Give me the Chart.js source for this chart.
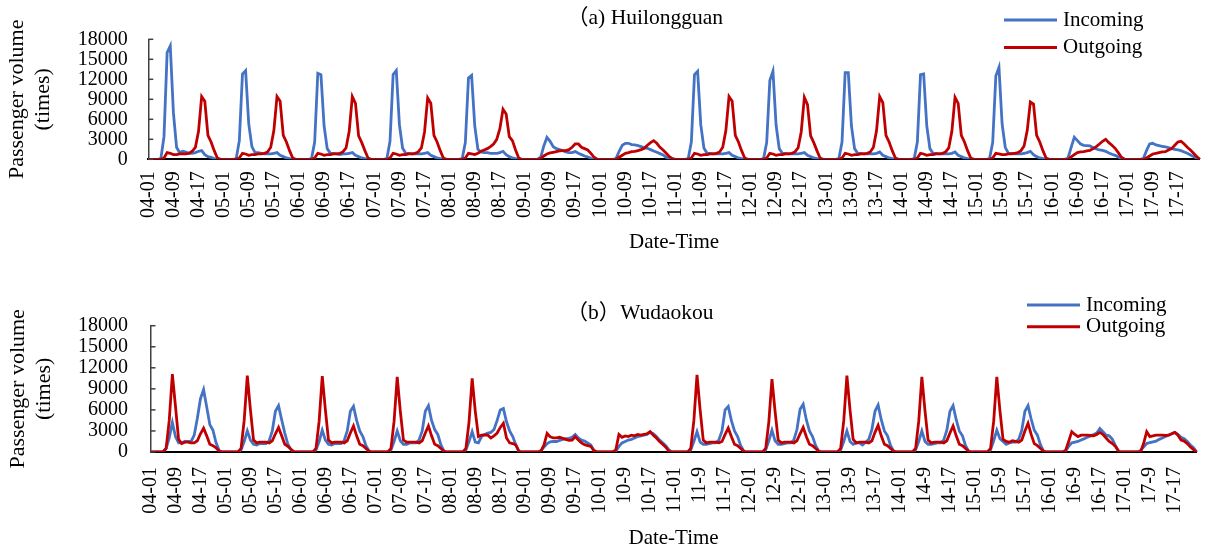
<!DOCTYPE html>
<html>
<head>
<meta charset="utf-8">
<title>Passenger volume - Huilongguan / Wudaokou</title>
<script src="https://cdn.jsdelivr.net/npm/chart.js@4.4.1/dist/chart.umd.min.js"></script>
<style>
  html, body { margin: 0; padding: 0; background: #fff; }
  body { width: 1214px; height: 551px; position: relative; overflow: hidden; }
  canvas { position: absolute; left: 0; }
  #chartA { top: 0; }
  #chartB { top: 270px; }
</style>
</head>
<body>
<canvas id="chartA" width="1214" height="262"></canvas>
<canvas id="chartB" width="1214" height="281"></canvas>
<script>
// Days and hours of the hourly series (14 days x 24 hours)
const days = ['04', '05', '06', '07', '08', '09', '10', '11', '12', '13', '14', '15', '16', '17'];
const hours = ['01', '02', '03', '04', '05', '06', '07', '08', '09', '10', '11', '12',
    '13', '14', '15', '16', '17', '18', '19', '20', '21', '22', '23', '24'];

// Tick labels shown every 8 hours
const hlgTickLabels = ['04-01', '04-09', '04-17', '05-01', '05-09', '05-17', '06-01', '06-09', '06-17',
    '07-01', '07-09', '07-17', '08-01', '08-09', '08-17', '09-01', '09-09', '09-17', '10-01', '10-09', '10-17',
    '11-01', '11-09', '11-17', '12-01', '12-09', '12-17', '13-01', '13-09', '13-17', '14-01', '14-09', '14-17',
    '15-01', '15-09', '15-17', '16-01', '16-09', '16-17', '17-01', '17-09', '17-17'];
const wdkTickLabels = ['04-01', '04-09', '04-17', '05-01', '05-09', '05-17', '06-01', '06-09', '06-17',
    '07-01', '07-09', '07-17', '08-01', '08-09', '08-17', '09-01', '09-09', '09-17', '10-01', '10-9', '10-17',
    '11-01', '11-9', '11-17', '12-01', '12-9', '12-17', '13-01', '13-9', '13-17', '14-01', '14-9', '14-17',
    '15-01', '15-9', '15-17', '16-01', '16-9', '16-17', '17-01', '17-9', '17-17'];

const yTicks = [0, 3000, 6000, 9000, 12000, 15000, 18000];

// (a) Huilongguan, one row per day
const hlgIncoming = [
    0, 0, 0, 0, 100, 3400, 16000, 17000, 7000, 1800, 1000, 1200, 1100, 900, 900, 1000, 1200, 1300, 700, 400, 300, 100, 0, 0, // 04
    0, 0, 0, 0, 100, 2800, 12800, 13300, 5300, 1900, 1000, 1000, 900, 800, 800, 800, 900, 1000, 600, 400, 200, 100, 0, 0, // 05
    0, 0, 0, 0, 100, 2600, 12900, 12700, 5000, 1600, 900, 900, 800, 700, 800, 800, 900, 1000, 600, 400, 200, 100, 0, 0, // 06
    0, 0, 0, 0, 100, 2700, 12700, 13300, 5200, 1700, 900, 900, 800, 800, 800, 800, 900, 1000, 600, 400, 200, 100, 0, 0, // 07
    0, 0, 0, 0, 100, 2500, 12200, 12600, 5000, 1500, 1100, 1000, 1000, 900, 900, 900, 1000, 1200, 700, 400, 200, 100, 0, 0, // 08
    0, 0, 0, 0, 0, 300, 2000, 3300, 2700, 1900, 1600, 1450, 1300, 1100, 1000, 1000, 1150, 900, 700, 500, 350, 150, 0, 0, // 09
    0, 0, 0, 0, 0, 100, 1200, 2100, 2400, 2400, 2200, 2150, 2050, 1900, 1750, 1650, 1450, 1250, 1050, 850, 650, 300, 0, 0, // 10
    0, 0, 0, 0, 100, 2600, 12700, 13200, 5200, 1700, 900, 900, 800, 800, 800, 800, 900, 1000, 600, 400, 200, 100, 0, 0, // 11
    0, 0, 0, 0, 100, 2500, 11800, 13200, 5100, 1600, 900, 900, 800, 800, 800, 800, 900, 1000, 600, 400, 200, 100, 0, 0, // 12
    0, 0, 0, 0, 100, 2600, 13000, 13000, 5000, 1600, 900, 900, 800, 800, 800, 800, 900, 1100, 600, 400, 200, 100, 0, 0, // 13
    0, 0, 0, 0, 100, 2600, 12700, 12800, 5000, 1600, 900, 900, 800, 800, 800, 800, 900, 1100, 600, 400, 200, 100, 0, 0, // 14
    0, 0, 0, 0, 100, 2500, 12500, 13800, 5300, 1800, 900, 900, 800, 800, 800, 900, 1000, 1200, 700, 400, 200, 100, 0, 0, // 15
    0, 0, 0, 0, 0, 200, 1800, 3300, 2800, 2300, 2100, 2050, 2000, 1750, 1550, 1400, 1350, 1200, 950, 750, 600, 350, 0, 0, // 16
    0, 0, 0, 0, 0, 100, 1300, 2300, 2400, 2150, 2050, 1950, 1850, 1750, 1600, 1500, 1400, 1300, 1100, 900, 650, 400, 150, 0 // 17
];
const hlgOutgoing = [
    0, 0, 0, 0, 0, 200, 1000, 900, 700, 700, 800, 800, 800, 900, 1200, 1800, 4200, 9400, 8700, 3600, 2600, 1300, 200, 0, // 04
    0, 0, 0, 0, 0, 200, 900, 800, 600, 700, 700, 800, 800, 900, 1100, 1800, 4300, 9400, 8700, 3600, 2600, 1300, 200, 0, // 05
    0, 0, 0, 0, 0, 200, 900, 800, 600, 700, 700, 800, 800, 900, 1100, 1700, 4200, 9400, 8400, 3500, 2500, 1300, 200, 0, // 06
    0, 0, 0, 0, 0, 200, 900, 800, 600, 700, 700, 800, 800, 900, 1100, 1700, 4100, 9200, 8400, 3600, 2600, 1300, 200, 0, // 07
    0, 0, 0, 0, 0, 200, 900, 800, 700, 900, 1200, 1400, 1600, 1900, 2300, 3000, 4600, 7500, 6800, 3400, 2800, 1400, 200, 0, // 08
    0, 0, 0, 0, 0, 100, 500, 800, 950, 1050, 1150, 1250, 1300, 1300, 1450, 1800, 2300, 2300, 1800, 1600, 1400, 900, 300, 0, // 09
    0, 0, 0, 0, 0, 0, 300, 600, 900, 1000, 1150, 1200, 1300, 1450, 1650, 2100, 2500, 2800, 2400, 1800, 1400, 900, 400, 100, // 10
    0, 0, 0, 0, 0, 200, 900, 800, 600, 700, 700, 800, 800, 900, 1100, 1800, 4300, 9400, 8700, 3600, 2600, 1300, 200, 0, // 11
    0, 0, 0, 0, 0, 200, 900, 800, 600, 700, 700, 800, 800, 900, 1100, 1700, 4100, 9300, 8200, 3500, 2500, 1300, 200, 0, // 12
    0, 0, 0, 0, 0, 200, 900, 800, 600, 700, 700, 800, 800, 900, 1100, 1800, 4300, 9400, 8500, 3600, 2600, 1300, 200, 0, // 13
    0, 0, 0, 0, 0, 200, 900, 800, 600, 700, 700, 800, 800, 900, 1100, 1700, 4200, 9300, 8400, 3600, 2600, 1300, 200, 0, // 14
    0, 0, 0, 0, 0, 200, 900, 800, 700, 700, 800, 800, 900, 1000, 1300, 2000, 4300, 8600, 8300, 3600, 2600, 1300, 200, 0, // 15
    0, 0, 0, 0, 0, 0, 350, 700, 1000, 1100, 1150, 1250, 1350, 1600, 1900, 2300, 2700, 3000, 2500, 2100, 1650, 1000, 300, 0, // 16
    0, 0, 0, 0, 0, 0, 200, 500, 800, 900, 1000, 1100, 1150, 1400, 1600, 2100, 2600, 2700, 2300, 1800, 1400, 900, 400, 0 // 17
];

// (b) Wudaokou, one row per day
const wdkIncoming = [
    0, 0, 0, 0, 0, 500, 2000, 4200, 2200, 1300, 1300, 1500, 1500, 1500, 2400, 4800, 7600, 8900, 6400, 3900, 3100, 1300, 200, 0, // 04
    0, 0, 0, 0, 0, 300, 1500, 3000, 1700, 1100, 1000, 1200, 1200, 1200, 1600, 3000, 5800, 6600, 4600, 2700, 1100, 300, 0, 0, // 05
    0, 0, 0, 0, 0, 300, 1500, 3100, 1700, 1100, 1000, 1200, 1200, 1200, 1600, 3000, 5800, 6500, 4500, 3000, 2200, 900, 100, 0, // 06
    0, 0, 0, 0, 0, 300, 1500, 3000, 1600, 1100, 1100, 1300, 1300, 1300, 1700, 3000, 5800, 6600, 4500, 3200, 2500, 1000, 100, 0, // 07
    0, 0, 0, 0, 0, 300, 1500, 2900, 1400, 1300, 2200, 2500, 2700, 2800, 3200, 4500, 6000, 6200, 4300, 3000, 2200, 1000, 0, 0, // 08
    0, 0, 0, 0, 0, 200, 700, 1200, 1450, 1500, 1500, 1650, 1800, 1900, 1950, 2100, 2500, 2000, 1700, 1550, 1300, 1000, 200, 0, // 09
    0, 0, 0, 0, 0, 100, 800, 1300, 1500, 1700, 1800, 2000, 2200, 2300, 2400, 2500, 2800, 2600, 2200, 1700, 1300, 900, 300, 0, // 10
    0, 0, 0, 0, 0, 300, 1500, 2900, 1400, 1100, 1100, 1200, 1300, 1300, 1700, 3000, 6000, 6500, 4500, 3000, 2200, 900, 100, 0, // 11
    0, 0, 0, 0, 0, 300, 1600, 3100, 1600, 1100, 1100, 1200, 1300, 1300, 1700, 3200, 6100, 6800, 4600, 3000, 2200, 900, 100, 0, // 12
    0, 0, 0, 0, 0, 300, 1500, 3000, 1500, 1100, 1300, 1300, 1000, 1400, 1800, 3200, 5800, 6700, 4600, 3000, 2300, 900, 100, 0, // 13
    0, 0, 0, 0, 0, 300, 1500, 3000, 1500, 1100, 1100, 1200, 1300, 1300, 1700, 3100, 5800, 6600, 4600, 3000, 2300, 900, 100, 0, // 14
    0, 0, 0, 0, 0, 300, 1600, 3100, 1900, 1500, 1100, 1300, 1400, 1400, 1800, 3100, 5800, 6600, 4700, 3100, 2400, 1000, 100, 0, // 15
    0, 0, 0, 0, 0, 100, 800, 1300, 1400, 1500, 1700, 1900, 2100, 2300, 2500, 2700, 3350, 2900, 2400, 2300, 1800, 900, 100, 0, // 16
    0, 0, 0, 0, 0, 200, 700, 1200, 1350, 1450, 1550, 1800, 2000, 2200, 2400, 2600, 2800, 2500, 2100, 1900, 1500, 1000, 600, 0 // 17
];
const wdkOutgoing = [
    0, 0, 0, 0, 0, 500, 4500, 11100, 6500, 1800, 1200, 1400, 1400, 1300, 1300, 1600, 2600, 3400, 2300, 1100, 900, 600, 100, 0, // 04
    0, 0, 0, 0, 0, 500, 4500, 10900, 6000, 1700, 1300, 1400, 1400, 1400, 1300, 1600, 2600, 3500, 2300, 1100, 800, 400, 0, 0, // 05
    0, 0, 0, 0, 0, 500, 4400, 10800, 6000, 1700, 1300, 1400, 1400, 1400, 1300, 1600, 2700, 3700, 2300, 1100, 900, 500, 100, 0, // 06
    0, 0, 0, 0, 0, 500, 4400, 10700, 5800, 1700, 1400, 1400, 1400, 1400, 1300, 1600, 2700, 3700, 2300, 1100, 900, 500, 100, 0, // 07
    0, 0, 0, 0, 0, 500, 4300, 10500, 5800, 2200, 2400, 2450, 2400, 2000, 2300, 2700, 3500, 4100, 2000, 1300, 1200, 1000, 100, 0, // 08
    0, 0, 0, 0, 0, 100, 1000, 2650, 2150, 2000, 2000, 2100, 1950, 1800, 1650, 1700, 2200, 1700, 1300, 1050, 900, 800, 200, 0, // 09
    0, 0, 0, 0, 0, 300, 2500, 2100, 2300, 2200, 2400, 2300, 2500, 2400, 2500, 2600, 2900, 2400, 2000, 1500, 1100, 700, 100, 0, // 10
    0, 0, 0, 0, 0, 500, 4500, 11000, 6000, 1700, 1300, 1400, 1400, 1400, 1300, 1500, 2500, 3400, 2200, 1100, 900, 500, 100, 0, // 11
    0, 0, 0, 0, 0, 500, 4300, 10400, 5800, 1700, 1300, 1400, 1400, 1400, 1300, 1600, 2600, 3500, 2200, 1100, 900, 500, 100, 0, // 12
    0, 0, 0, 0, 0, 500, 4500, 10900, 6000, 1800, 1300, 1400, 1400, 1400, 1300, 1600, 2800, 3800, 2300, 1100, 900, 500, 100, 0, // 13
    0, 0, 0, 0, 0, 500, 4400, 10700, 5900, 1700, 1300, 1400, 1400, 1400, 1300, 1600, 2700, 3700, 2300, 1100, 900, 500, 100, 0, // 14
    0, 0, 0, 0, 0, 500, 4400, 10700, 5900, 1800, 1500, 1400, 1600, 1500, 1400, 1700, 3000, 4100, 2500, 1200, 900, 500, 100, 0, // 15
    0, 0, 0, 0, 0, 200, 1500, 2900, 2500, 2200, 2400, 2400, 2400, 2350, 2300, 2500, 2800, 2500, 2000, 1500, 1200, 800, 100, 0, // 16
    0, 0, 0, 0, 0, 0, 1200, 2900, 2200, 2300, 2400, 2400, 2400, 2350, 2400, 2600, 2800, 2400, 1700, 1550, 1200, 700, 350, 0 // 17
];

const BLUE = '#4472C4';
const RED = '#C00000';
const SERIF = '"Liberation Serif", "Times New Roman", "Noto Sans CJK SC", serif';

Chart.defaults.font.family = SERIF;
Chart.defaults.color = '#000';

// Category labels: one per hourly point
const pointLabels = [];
days.forEach(d => hours.forEach(h => pointLabels.push(`${d}-${h}`)));

// Draws the panel title, the stacked legend and the inner y tick marks
const panelDecor = {
    id: 'panelDecor',
    afterDraw(chart, args, opts) {
        const ctx = chart.ctx;
        const area = chart.chartArea;
        const yScale = chart.scales.y;
        ctx.save();

        ctx.strokeStyle = '#404040';
        ctx.lineWidth = 1.5;
        yScale.ticks.forEach(t => {
            const y = yScale.getPixelForValue(t.value);
            ctx.beginPath();
            ctx.moveTo(area.left, y);
            ctx.lineTo(area.left + 5, y);
            ctx.stroke();
        });

        ctx.fillStyle = '#000';
        ctx.font = `21.5px ${SERIF}`;
        ctx.textAlign = 'center';
        ctx.textBaseline = 'middle';
        ctx.fillText(opts.text, opts.titleX, opts.titleY);

        ctx.textAlign = 'left';
        ctx.font = `21px ${SERIF}`;
        chart.data.datasets.forEach((ds, i) => {
            const y = opts.legendY + i * opts.legendGap;
            ctx.strokeStyle = ds.borderColor;
            ctx.lineWidth = 3;
            ctx.beginPath();
            ctx.moveTo(opts.legendX, y);
            ctx.lineTo(opts.legendX + 53, y);
            ctx.stroke();
            ctx.fillText(ds.label, opts.legendX + 59, y);
        });
        ctx.restore();
    }
};

function makeChart(canvasId, tickLabels, incoming, outgoing, geo) {
    return new Chart(document.getElementById(canvasId), {
        type: 'line',
        data: {
            labels: pointLabels,
            datasets: [
                { label: 'Incoming', data: incoming, borderColor: BLUE, order: 1 },
                { label: 'Outgoing', data: outgoing, borderColor: RED, order: 0 }
            ]
        },
        options: {
            responsive: false,
            animation: false,
            layout: { padding: { top: geo.top, right: geo.right, bottom: 0, left: 0 } },
            elements: {
                point: { radius: 0 },
                line: { borderWidth: 2.8, tension: 0, fill: false }
            },
            plugins: {
                legend: { display: false },
                tooltip: { enabled: false },
                panelDecor: geo.decor
            },
            scales: {
                x: {
                    grid: { display: false, drawTicks: false },
                    border: { display: true, color: '#000', width: 2 },
                    ticks: {
                        autoSkip: false,
                        maxRotation: 90,
                        minRotation: 90,
                        padding: geo.xTickPad,
                        font: { size: 20 },
                        callback: (value, index) => (index % 8 === 0 ? tickLabels[index / 8] : null)
                    },
                    title: {
                        display: true,
                        text: 'Date-Time',
                        font: { size: 21 },
                        padding: { top: 0, bottom: geo.xTitlePad }
                    },
                    afterFit: scale => { scale.height = geo.xHeight; }
                },
                y: {
                    min: yTicks[0],
                    max: yTicks[yTicks.length - 1],
                    grid: { display: false, drawTicks: false },
                    border: { display: true, color: '#404040', width: 1.5 },
                    afterBuildTicks: scale => { scale.ticks = yTicks.map(v => ({ value: v })); },
                    ticks: {
                        autoSkip: false,
                        padding: geo.yTickPad,
                        font: { size: 20 },
                        callback: value => String(value)
                    },
                    title: {
                        display: true,
                        text: ['Passenger volume', '(times)'],
                        font: { size: 22, lineHeight: 1.2 },
                        padding: { top: geo.yTitlePad, bottom: 0 }
                    },
                    afterFit: scale => { scale.width = geo.yWidth; }
                }
            }
        },
        plugins: [panelDecor]
    });
}

makeChart('chartA', hlgTickLabels, hlgIncoming, hlgOutgoing, {
    top: 39.3, right: 5, yWidth: 148.3, xHeight: 102.7,
    xTickPad: 12, xTitlePad: 7.4, yTickPad: 20.6, yTitlePad: 4,
    decor: { text: '（a) Huilongguan', titleX: 645, titleY: 18, legendX: 1004, legendY: 20, legendGap: 27.5 }
});

makeChart('chartB', wdkTickLabels, wdkIncoming, wdkOutgoing, {
    top: 55.7, right: 9, yWidth: 150.5, xHeight: 99,
    xTickPad: 15, xTitlePad: 0.4, yTickPad: 22.5, yTitlePad: 5,
    decor: { text: '（b）Wudaokou', titleX: 640, titleY: 43, legendX: 1027, legendY: 35, legendGap: 21.7 }
});
</script>
</body>
</html>
